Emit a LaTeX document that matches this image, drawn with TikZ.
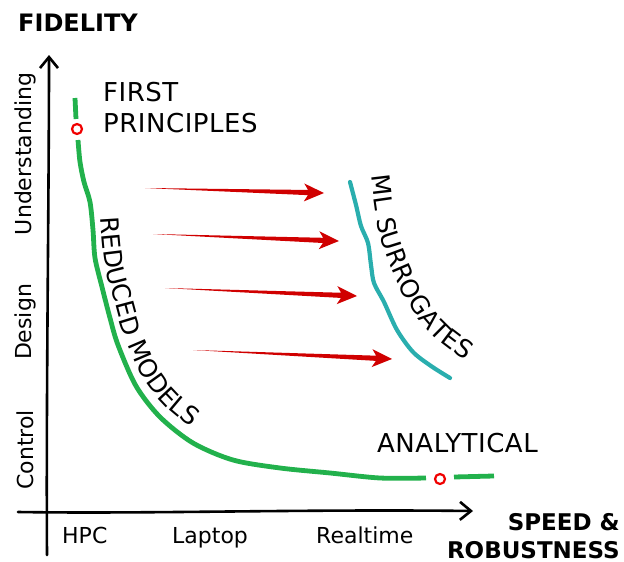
\documentclass[tikz,border=0pt]{standalone}
\usepackage{fontspec}
\setmainfont{DejaVu Sans}
\usetikzlibrary{arrows.meta,calc,decorations.text}
\definecolor{cgreen}{RGB}{34,177,76}
\definecolor{cteal}{RGB}{42,174,174}
\definecolor{cred}{RGB}{208,0,0}
\definecolor{cring}{RGB}{240,0,0}
\newcommand\labfont{\fontsize{25}{30}\selectfont}
\newcommand\redarrow[2]{%
  \fill[cred] (#1) -- ($($(#2)!16pt!(#1)$)!2.6pt!90:(#1)$) -- ($($(#2)!20pt!(#1)$)!9pt!90:(#1)$) -- (#2)
    -- ($($(#2)!20pt!(#1)$)!9pt!-90:(#1)$) -- ($($(#2)!16pt!(#1)$)!2.6pt!-90:(#1)$) -- cycle;}
\begin{document}
\begin{tikzpicture}[x=1pt,y=-1pt,
  lab/.style={font=\fontsize{26}{30}\selectfont\addfontfeatures{LetterSpace=2}, inner sep=0pt},
  ticklab/.style={font=\fontsize{22}{26}\selectfont, inner sep=0pt},
  boldlab/.style={font=\fontsize{24}{28}\selectfont\bfseries, inner sep=0pt},
  boldlabr/.style={font=\fontsize{23}{28}\selectfont\bfseries, inner sep=0pt},
  axisline/.style={line width=2.6pt, line cap=round, -{Straight Barb[length=11pt,width=18pt]}},
  gcurve/.style={cgreen, line width=4.8pt},
  tcurve/.style={cteal, line width=4.2pt, line cap=round},
  ring/.style={circle, draw=cring, line width=2.2pt, fill=white, minimum size=10pt, inner sep=0pt}
]
\useasboundingbox (0,0) rectangle (624,562);
% axes
\coordinate (yb) at (47,555);
\coordinate (yt) at (49,55);
\coordinate (xl) at (18,512);
\coordinate (xr) at (473,511);
\draw[axisline] (yb) .. controls (46,400) and (49,200) .. (yt);
\draw[axisline] (xl) .. controls (150,514) and (300,509) .. (xr);
% axis titles
\node[boldlab, anchor=base west] (fid) at (18,31) {FIDELITY};
\node[boldlabr, anchor=base east] (spd) at (620,530) {SPEED \&};
\node[boldlabr, anchor=base east] (rob) at (620,558) {ROBUSTNESS};
% tick labels
\node[ticklab, anchor=base west] (hpc) at (62,543) {HPC};
\node[ticklab, anchor=base west] (lap) at (172,543) {Laptop};
\node[ticklab, anchor=base west] (rt) at (316,543) {Realtime};
\node[ticklab, rotate=90] (und) at (25,154) {Understanding};
\node[ticklab, rotate=90] (des) at (25,322) {Design};
\node[ticklab, rotate=90] (ctl) at (25,450) {Control};
% green curve
\draw[gcurve] (75,98) -- (76,119);
\draw[gcurve] plot[smooth] coordinates {(78,140) (80,162) (84,182) (90,202) (93,230) (95,258) (102,287) (110,318) (118,345) (136,386) (160,417) (193,443) (233,460) (280,468) (330,473) (380,478) (426,478)};
\draw[gcurve] (454,477) -- (494,476);
\node[ring] (fpr) at (77,129) {};
\node[ring] (anr) at (440,479) {};
% teal curve
\draw[tcurve] plot[smooth] coordinates {(350,182) (356,205) (361,226) (368,243) (371,265) (374,283) (384,302) (397,330) (413,352) (431,366) (450,378)};
% labels
\node[lab, anchor=base west] (fp1) at (103,101) {FIRST};
\node[lab, anchor=base west] (fp2) at (103,132) {PRINCIPLES};
\node[lab, anchor=base west] (ana) at (377,452) {ANALYTICAL};
\path[decorate, decoration={text along path, text={|\labfont|REDUCED MODELS}, text align=center}]
  plot[smooth] coordinates {(99,165) (100,200) (102,235) (106,270) (114,300) (124,335) (140,372) (162,403) (192,428) (215,442) (236,454)};
\path[decorate, decoration={text along path, text={|\labfont|ML SURROGATES}, text align=center}]
  plot[smooth] coordinates {(368,130) (370,165) (374,200) (380,235) (390,265) (402,292) (418,318) (438,340) (462,358) (485,372) (505,384)};
% red arrows
\coordinate (a1s) at (145,188); \coordinate (a1e) at (324,193);
\coordinate (a2s) at (153,234); \coordinate (a2e) at (339,241);
\coordinate (a3s) at (165,288); \coordinate (a3e) at (357,296);
\coordinate (a4s) at (193,350); \coordinate (a4e) at (392,359);
\redarrow{a1s}{a1e}
\redarrow{a2s}{a2e}
\redarrow{a3s}{a3e}
\redarrow{a4s}{a4e}
\end{tikzpicture}
\end{document}
